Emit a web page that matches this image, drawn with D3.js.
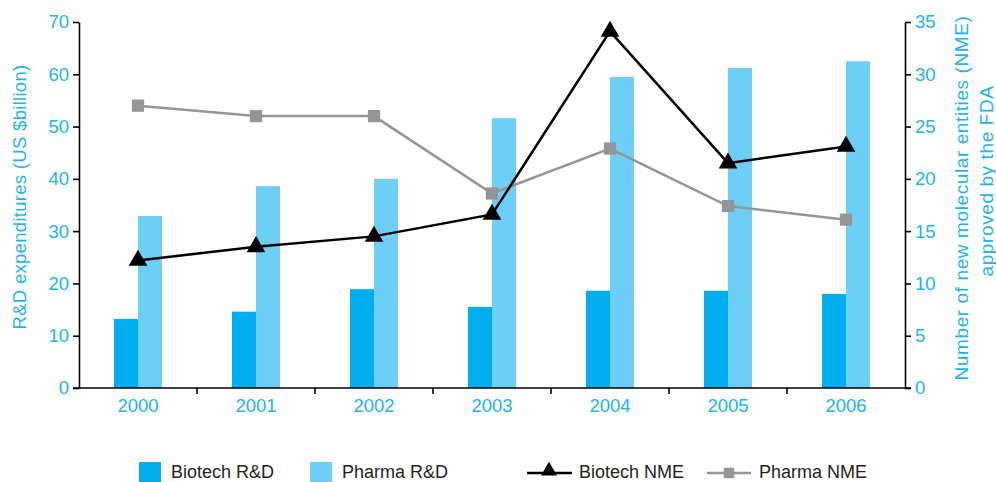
<!DOCTYPE html>
<html>
<head>
<meta charset="utf-8">
<script src="https://cdn.jsdelivr.net/npm/d3@7"></script>
<style>
  html, body { margin: 0; padding: 0; background: #fff; }
  svg { display: block; font-family: "Liberation Sans", Arial, sans-serif; }
</style>
</head>
<body>
<svg id="chart" width="996" height="482"></svg>
<script>
// Years on the x axis
const years = ["2000", "2001", "2002", "2003", "2004", "2005", "2006"];
// R&D spending, US $billion (left axis)
const biotechRD = [13.2, 14.6, 18.9, 15.5, 18.6, 18.6, 18.0];
const pharmaRD  = [32.9, 38.6, 40.0, 51.6, 59.5, 61.2, 62.5];
// New molecular entities approved by the FDA (right axis)
const biotechNME = [12.2, 13.5, 14.5, 16.6, 34.1, 21.5, 23.1];
const pharmaNME  = [27.0, 26.0, 26.0, 18.6, 22.9, 17.4, 16.1];
// Axis tick values
const leftTicks  = [0, 10, 20, 30, 40, 50, 60, 70];
const rightTicks = [0, 5, 10, 15, 20, 25, 30, 35];

const cBiotech = "#00aeef";
const cPharma  = "#6dcff6";
const cLabel   = "#1cb4ee";
const cGrey    = "#939598";
const tickFont = 18.5;

const svg = d3.select("#chart");
const plotLeft = 79, plotRight = 905, plotTop = 22, plotBottom = 388;

const x = d3.scaleBand().domain(years).range([plotLeft, plotRight]).padding(0);
const yL = d3.scaleLinear().domain([0, 70]).range([plotBottom, plotTop]);
const yR = d3.scaleLinear().domain([0, 35]).range([plotBottom, plotTop]);
const barW = 24;

// Bars
const g = svg.append("g");
g.selectAll("rect.bio").data(years).join("rect")
  .attr("x", d => x(d) + x.bandwidth() / 2 - barW)
  .attr("y", (d, i) => yL(biotechRD[i]))
  .attr("width", barW)
  .attr("height", (d, i) => yL(0) - yL(biotechRD[i]))
  .attr("fill", cBiotech);
g.selectAll("rect.pha").data(years).join("rect")
  .attr("x", d => x(d) + x.bandwidth() / 2)
  .attr("y", (d, i) => yL(pharmaRD[i]))
  .attr("width", barW)
  .attr("height", (d, i) => yL(0) - yL(pharmaRD[i]))
  .attr("fill", cPharma);

// Lines
const cx = d => x(d) + x.bandwidth() / 2;
const lineGen = vals => d3.line().x((d, i) => cx(years[i])).y(d => yR(d))(vals);

svg.append("path").attr("d", lineGen(pharmaNME))
  .attr("fill", "none").attr("stroke", cGrey).attr("stroke-width", 2.5);
svg.append("path").attr("d", lineGen(biotechNME))
  .attr("fill", "none").attr("stroke", "#000").attr("stroke-width", 2.5);

const square = d3.symbol().type(d3.symbolSquare).size(150);
const tri = d3.symbol().type(d3.symbolTriangle).size(150);
svg.selectAll("path.sq").data(pharmaNME).join("path")
  .attr("d", square)
  .attr("transform", (d, i) => `translate(${cx(years[i])},${yR(d)})`)
  .attr("fill", cGrey);
svg.selectAll("path.tr").data(biotechNME).join("path")
  .attr("d", tri)
  .attr("transform", (d, i) => `translate(${cx(years[i])},${yR(d)})`)
  .attr("fill", "#000");

// Axes
function styleAxis(sel) {
  sel.selectAll("path, line").attr("stroke", "#000").attr("stroke-width", 1.6);
  sel.selectAll("text").attr("fill", cLabel).attr("font-size", tickFont);
}
const axL = svg.append("g").attr("transform", `translate(${plotLeft},0)`)
  .call(d3.axisLeft(yL).tickValues(leftTicks).tickSize(6).tickSizeOuter(0).tickPadding(4));
styleAxis(axL);
const axR = svg.append("g").attr("transform", `translate(${plotRight},0)`)
  .call(d3.axisRight(yR).tickValues(rightTicks).tickSize(6).tickSizeOuter(0).tickPadding(4));
styleAxis(axR);

const axX = svg.append("g").attr("transform", `translate(0,${plotBottom})`);
axX.append("line").attr("x1", plotLeft - 6).attr("x2", plotRight + 6)
  .attr("stroke", "#000").attr("stroke-width", 1.6);
axX.selectAll("line.tk").data(years.slice(1)).join("line")
  .attr("x1", d => x(d)).attr("x2", d => x(d)).attr("y1", 0).attr("y2", 6)
  .attr("stroke", "#000").attr("stroke-width", 1.6);
axX.selectAll("text").data(years).join("text")
  .attr("x", d => cx(d)).attr("y", 24)
  .attr("text-anchor", "middle").attr("fill", cLabel).attr("font-size", tickFont)
  .text(d => d);

// Axis titles
svg.append("text")
  .attr("transform", `translate(26,197) rotate(-90)`)
  .attr("text-anchor", "middle").attr("fill", cLabel).attr("font-size", 18.5)
  .attr("letter-spacing", 0.3)
  .text("R&D expenditures (US $billion)");
svg.append("text")
  .attr("transform", `translate(968,198) rotate(-90)`)
  .attr("text-anchor", "middle").attr("fill", cLabel).attr("font-size", 19)
  .attr("letter-spacing", 0.6)
  .text("Number of new molecular entities (NME)");
svg.append("text")
  .attr("transform", `translate(993,181) rotate(-90)`)
  .attr("text-anchor", "middle").attr("fill", cLabel).attr("font-size", 19)
  .attr("letter-spacing", 0.6)
  .text("approved by the FDA");

// Legend
const leg = svg.append("g");
const legText = "#231f20";
const legFont = 18;
leg.append("rect").attr("x", 139).attr("y", 462).attr("width", 22).attr("height", 20).attr("fill", cBiotech);
leg.append("text").attr("x", 171).attr("y", 478).attr("font-size", legFont).attr("fill", legText).text("Biotech R&D");
leg.append("rect").attr("x", 310).attr("y", 462).attr("width", 22).attr("height", 20).attr("fill", cPharma);
leg.append("text").attr("x", 342).attr("y", 478).attr("font-size", legFont).attr("fill", legText).text("Pharma R&D");

leg.append("line").attr("x1", 527).attr("x2", 572).attr("y1", 473).attr("y2", 473)
  .attr("stroke", "#000").attr("stroke-width", 2.5);
leg.append("path").attr("d", d3.symbol().type(d3.symbolTriangle).size(110))
  .attr("transform", "translate(549,471)").attr("fill", "#000");
leg.append("text").attr("x", 579).attr("y", 478).attr("font-size", legFont).attr("fill", legText).text("Biotech NME");

leg.append("line").attr("x1", 707).attr("x2", 751).attr("y1", 473).attr("y2", 473)
  .attr("stroke", cGrey).attr("stroke-width", 2.5);
leg.append("path").attr("d", d3.symbol().type(d3.symbolSquare).size(110))
  .attr("transform", "translate(729,473)").attr("fill", cGrey);
leg.append("text").attr("x", 759).attr("y", 478).attr("font-size", legFont).attr("fill", legText).text("Pharma NME");
</script>
</body>
</html>
